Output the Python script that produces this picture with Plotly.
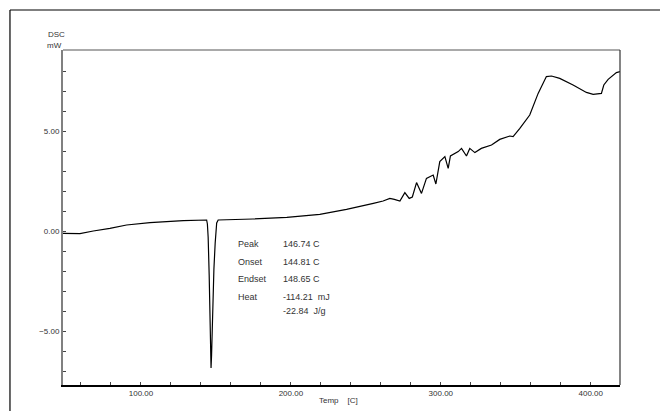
import plotly.graph_objects as go

# --- data ---
temp = [48, 59.3, 68.2, 79.3, 90.4, 106, 128.2, 141.5, 143.8, 144.3, 144.81, 145.5,
        146.2, 146.74, 147.1, 147.5, 148.2, 148.65, 149.5, 150.5, 151.5, 160, 174.7,
        197.3, 219.3, 237.1, 248.2, 255, 261.5, 266, 269, 272.7, 276, 278.9, 281,
        283.8, 287.1, 290.4, 294.9, 296.7, 299.3, 302.7, 304.9, 306.4, 311.6, 313.8,
        317.1, 319.3, 322.7, 326, 327, 333.8, 339.3, 346, 348.2, 352.7, 359.3, 364.9,
        370.4, 373.8, 379.3, 388.2, 397.1, 401.6, 407.1, 408.7, 411.6, 417.1, 419.8]
dsc = [-0.12, -0.13, 0.0, 0.13, 0.30, 0.42, 0.52, 0.55, 0.55, 0.35, -0.3, -2.2,
       -4.6, -6.85, -6.2, -4.95, -3.2, -1.9, -0.6, 0.4, 0.55, 0.56, 0.6,
       0.68, 0.83, 1.08, 1.25, 1.38, 1.5, 1.63, 1.58, 1.5, 1.92, 1.63, 1.7,
       2.42, 1.88, 2.63, 2.8, 2.35, 3.47, 3.72, 3.13, 3.75, 3.97, 4.13,
       3.75, 4.13, 3.92, 4.08, 4.13, 4.3, 4.58, 4.75, 4.72, 5.13, 5.8, 6.88,
       7.72, 7.75, 7.63, 7.3, 6.93, 6.83, 6.88, 7.3, 7.58, 7.92, 7.97]

x_ticks = [100, 200, 300, 400]
y_ticks = [-5, 0, 5]

ann_labels = ["Peak", "Onset", "Endset", "Heat", ""]
ann_values = ["146.74 C", "144.81 C", "148.65 C", "-114.21  mJ", "-22.84  J/g"]
ann_y = [-0.65, -1.55, -2.4, -3.3, -4.0]

FONT = "Liberation Sans, Arial, sans-serif"
TXT = "#333333"

fig = go.Figure()
fig.add_trace(go.Scatter(x=temp, y=dsc, mode="lines",
                         line=dict(color="black", width=1.2),
                         showlegend=False, hoverinfo="skip"))

fig.update_layout(
    width=660, height=403,
    margin=dict(l=55, r=48, t=42, b=26),
    paper_bgcolor="white", plot_bgcolor="white",
    font=dict(family=FONT, size=8, color=TXT),
    xaxis=dict(range=[48, 419.5], tickvals=x_ticks, tickformat=".2f",
               ticks="inside", ticklen=3, tickcolor="#444", showgrid=False,
               zeroline=False, showline=True, linecolor="black", linewidth=1.5,
               mirror=False, tickfont=dict(size=8, color=TXT),
               minor=dict(dtick=20, ticks="inside", ticklen=3, tickcolor="#444", showgrid=False)),
    yaxis=dict(range=[-7.7, 9.05], tickvals=y_ticks, tickformat=".2f",
               ticks="inside", ticklen=3, tickcolor="#444", showgrid=False,
               zeroline=False, showline=True, linecolor="#808080", linewidth=2,
               tickfont=dict(size=8, color=TXT),
               minor=dict(dtick=1, ticks="inside", ticklen=3, tickcolor="#444", showgrid=False)),
)

# top and right borders of the plot box
fig.add_shape(type="line", xref="paper", yref="paper", x0=0, x1=1, y0=1, y1=1,
              line=dict(color="#555555", width=1))
fig.add_shape(type="line", xref="paper", yref="paper", x0=1, x1=1, y0=0, y1=1,
              line=dict(color="#333333", width=1.2))
# outer frame (left and top)
fig.add_shape(type="line", xref="paper", yref="paper", x0=-0.0952, x1=-0.0952,
              y0=-0.2, y1=1.1194, line=dict(color="black", width=1.2))
fig.add_shape(type="line", xref="paper", yref="paper", x0=-0.0952, x1=1.2,
              y0=1.1194, y1=1.1194, line=dict(color="black", width=1.2))

# axis titles
fig.add_annotation(text="DSC", xref="paper", yref="paper", x=-0.031, y=1.045,
                   xanchor="left", yanchor="middle", showarrow=False,
                   font=dict(size=8, color=TXT))
fig.add_annotation(text="mW", xref="paper", yref="paper", x=-0.033, y=1.012,
                   xanchor="left", yanchor="middle", showarrow=False,
                   font=dict(size=8, color=TXT))
fig.add_annotation(text="Temp&nbsp;&nbsp;&nbsp;&nbsp;[C]", xref="paper", yref="paper",
                   x=0.494, y=-0.045, xanchor="center", yanchor="middle", showarrow=False,
                   font=dict(size=8, color=TXT))

# peak analysis text
for lab, val, yy in zip(ann_labels, ann_values, ann_y):
    if lab:
        fig.add_annotation(text=lab, x=163.2, y=yy, xanchor="left", yanchor="middle",
                           showarrow=False, font=dict(size=9, color=TXT))
    fig.add_annotation(text=val.replace("  ", "&nbsp;&nbsp;"), x=193.7, y=yy,
                       xanchor="left", yanchor="middle", showarrow=False,
                       font=dict(size=9, color=TXT))

fig.write_html("out.html")
